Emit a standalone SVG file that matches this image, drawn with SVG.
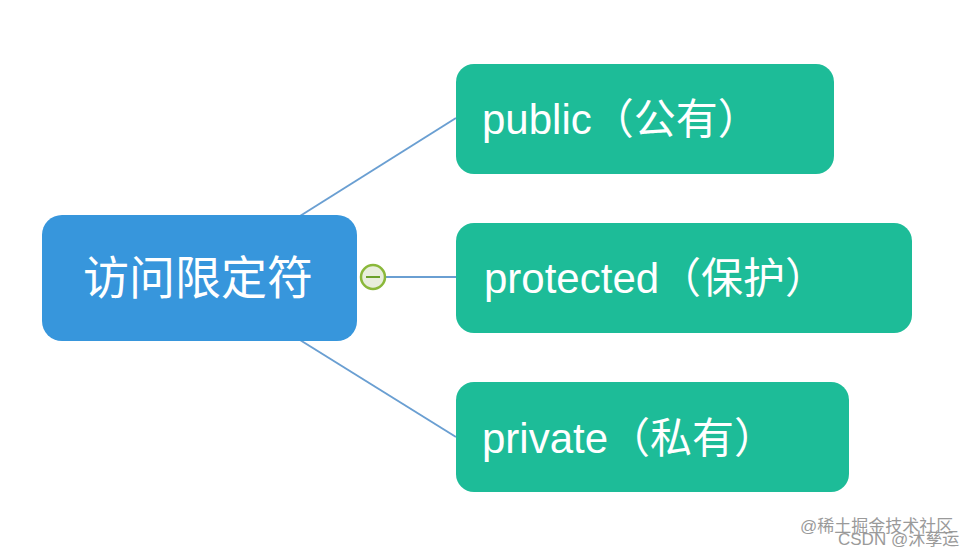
<svg xmlns="http://www.w3.org/2000/svg" width="980" height="556" viewBox="0 0 980 556">
<style>
.c{fill:#1dbc98}
.t{font-family:"Liberation Sans","Noto Sans CJK SC",sans-serif;font-size:42px;fill:#fff}
.l{stroke:#6a9fd2;stroke-width:2;fill:none}
.w{font-family:"Liberation Sans","Noto Sans CJK SC",sans-serif;font-size:17px;fill:#9a9a9a}
</style>
<rect width="980" height="556" fill="#fff"/>
<g id="connectors">
<path class="l" d="M300 216 L456 118"/>
<path class="l" d="M385 277 L456 277"/>
<path class="l" d="M300 340 L456 437"/>
</g>
<g id="root">
<rect x="42" y="215" width="315" height="126" rx="20" fill="#3796dc"/>
<text class="t" x="198" y="294" text-anchor="middle" style="font-size:46px">访问限定符</text>
</g>
<g id="toggle">
<circle cx="373" cy="277" r="12" fill="#e8eedc" stroke="#8ab83a" stroke-width="2.5"/>
<line x1="366" y1="277" x2="380" y2="277" stroke="#6aa02a" stroke-width="2"/>
</g>
<g id="public">
<rect class="c" x="456" y="64" width="378" height="110" rx="18"/>
<text class="t" x="482" y="134">public（公有）</text>
</g>
<g id="protected">
<rect class="c" x="456" y="223" width="456" height="110" rx="18"/>
<text class="t" x="484" y="293">protected（保护）</text>
</g>
<g id="private">
<rect class="c" x="456" y="382" width="393" height="110" rx="18"/>
<text class="t" x="482" y="453">private（私有）</text>
</g>
<text class="w" x="800" y="532">@稀土掘金技术社区</text>
<text class="w" x="838" y="545">CSDN @沐孳运</text>
</svg>
